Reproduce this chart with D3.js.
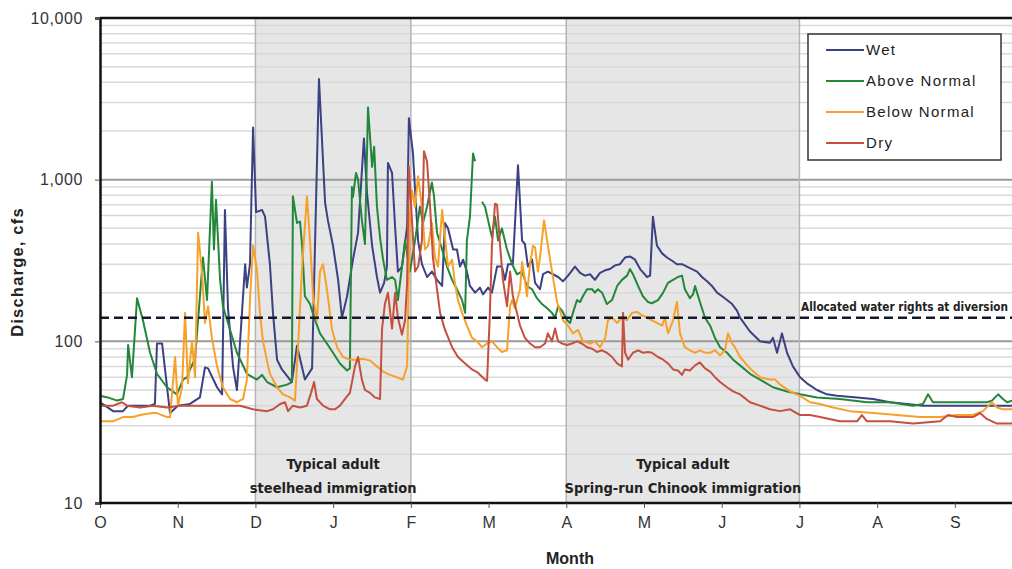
<!DOCTYPE html>
<html>
<head>
<meta charset="utf-8">
<title>Discharge by water year type</title>
<style>
  html, body { margin: 0; padding: 0; background: #fff; }
  svg { display: block; font-family: "Liberation Sans", Arial, sans-serif; }
  .narrow { font-family: "Liberation Sans Narrow", "Arial Narrow", "DejaVu Sans Condensed", sans-serif; font-weight: bold; }
</style>
</head>
<body>
<script src="https://cdn.jsdelivr.net/npm/d3@7"></script>
<script>
// water year months, Oct -> Sep
var monthLabels = ["O", "N", "D", "J", "F", "M", "A", "M", "J", "J", "A", "S"];
var yTicks = [10, 100, 1000, 10000];
var seriesNames = ["Wet", "Above Normal", "Below Normal", "Dry"];
var seriesColors = ["#3b4182", "#23873a", "#f7a12a", "#c4503f"];

// [day of water year, discharge cfs]
var wet = [[0,42],[2,40],[5.1,37],[9,37],[11,40],[19.6,40],[21.5,41],[22.3,97],[24.3,97],[27.4,36],[30.5,40],[35.2,41],[39.1,45],[41.1,69],[42.3,68],[45.8,52],[47.8,47],[48.9,650],[50.1,160],[52.1,69],[53.6,50],[56.8,300],[57.5,215],[58.7,300],[59.9,2100],[61.1,630],[63.4,650],[64.6,590],[66.5,300],[67.7,150],[69.3,77],[71.2,67],[75.1,56],[77.1,94],[80.2,58],[83,68],[85.7,4200],[88.1,720],[89.2,560],[91.2,390],[93.2,240],[94.7,140],[96.7,190],[99,320],[101,470],[103.3,1800],[104.5,830],[106.5,390],[108.4,250],[109.6,200],[111.2,230],[112.3,290],[112.7,1270],[114.3,1100],[115.5,510],[116.6,270],[118.2,290],[120.2,510],[120.9,2400],[122.5,1450],[123.3,870],[124.5,420],[126,300],[128,250],[129.9,270],[131.9,240],[133.9,220],[135,540],[136.2,500],[138.2,370],[139.7,370],[140.9,290],[142.1,320],[143.6,270],[144.8,220],[146.8,200],[148.7,215],[149.9,195],[151.9,215],[153.4,200],[155.4,290],[157.3,290],[158.5,240],[159.7,300],[161.6,300],[163.6,1230],[165.2,420],[166.3,400],[167.5,290],[169.1,320],[170.3,230],[172.2,210],[173.4,260],[175.3,270],[177.3,260],[179.3,250],[181.2,235],[183.2,255],[185.9,290],[187.9,265],[189.8,255],[191.8,260],[193.7,240],[195.7,265],[197.7,275],[199.6,280],[201.6,295],[203.5,300],[205.5,330],[207.4,335],[209.4,320],[211.4,280],[214.1,250],[215.3,255],[216.4,590],[218,390],[220,350],[221.9,330],[223.9,315],[225.8,300],[227.8,300],[229.7,290],[231.7,280],[233.7,270],[235.6,250],[237.6,235],[239.5,220],[241.5,200],[243.5,190],[245.4,180],[247.4,170],[249.3,155],[250.5,140],[254.4,115],[258.3,100],[262.2,98],[263.4,105],[265,85],[266.9,112],[268.9,85],[271.2,70],[274,60],[276.7,55],[280.6,50],[284.5,47],[288.5,46],[296.3,45],[302.6,44],[309.2,42],[315.9,41],[322.1,40],[335.4,40],[348.3,40],[365,40]];

var aboveNormal = [[0,46],[3,45],[6.7,43],[9,44],[10.6,62],[11,95],[12.5,60],[14.5,185],[16.8,135],[19.6,85],[22.3,63],[26.2,52],[30.1,47],[32.5,58],[34.1,60],[35.2,67],[37.2,78],[40.3,330],[41.9,180],[43.8,970],[44.6,370],[45.4,750],[47,240],[48.1,165],[50.9,118],[53.6,85],[57.5,63],[61.4,58],[63.4,62],[65.4,56],[69.3,52],[73.2,54],[75.1,56],[75.5,790],[77.1,540],[78.3,550],[79.1,390],[80.2,190],[82.2,170],[84.2,135],[86.1,112],[88.8,97],[91.2,85],[93.9,73],[96.7,66],[97.8,68],[98.6,900],[99,780],[100.2,1100],[101,1000],[102.5,560],[103.7,400],[104.9,2800],[106.5,1200],[107.3,1600],[108.4,680],[109.6,440],[110.8,320],[112.3,240],[114.3,250],[115.5,240],[116.6,180],[118.2,290],[119.4,420],[121.3,270],[123.3,420],[125.2,680],[126.4,540],[128,680],[129.9,960],[130.7,800],[131.9,470],[133.9,370],[135.8,290],[137.8,240],[139.7,210],[141.7,180],[142.9,150],[143.6,420],[144.8,590],[146,1450],[146.8,1300],[148,null],[149.5,730],[150.7,680],[151.9,560],[153.4,440],[154.6,590],[155.8,420],[157.3,500],[159.3,370],[161.3,300],[163.2,260],[165.2,270],[167.1,220],[169.1,210],[171,185],[173,170],[175,160],[176.9,150],[178.1,140],[179.3,165],[180.8,155],[182.8,135],[184,130],[185.1,150],[186.7,180],[187.9,175],[189,190],[190.6,210],[192.6,210],[193.7,200],[194.9,210],[196.5,200],[198.4,170],[200.4,180],[202.4,220],[204.3,240],[206.3,255],[207.4,280],[208.6,260],[210.6,220],[212.5,190],[214.5,175],[216,172],[218.4,180],[220.4,200],[222.3,230],[224.3,240],[226.2,250],[227.8,255],[228.9,210],[230.9,185],[232.1,195],[232.9,220],[234.8,175],[236.8,140],[238.8,125],[240.7,105],[242.7,92],[245.4,85],[247.8,77],[250.5,71],[254.4,63],[258.3,58],[263.4,52],[268.9,49],[274,47],[280.6,45],[289.6,44],[300.2,42],[309.2,42],[318.2,40],[322.1,41],[324.1,47],[326,42],[331.5,42],[339.3,42],[347.2,42],[349.1,43],[351.5,47],[353.4,44],[355,42],[357,43],[365,42]];

var belowNormal = [[0,32],[5.1,32],[9,34],[12.9,34],[15.7,35],[20.4,36],[22.3,36],[26.2,34],[27.4,34],[29.4,80],[30.5,40],[32.1,52],[33.3,150],[34.4,55],[36,100],[37.2,60],[38.4,470],[39.9,270],[41.1,130],[42.3,165],[43.8,105],[45.8,70],[48.1,52],[50.9,44],[53.6,42],[56,44],[57.5,58],[58.7,180],[59.9,390],[61.4,280],[62.6,150],[63.8,100],[65.8,70],[66.5,63],[69.3,52],[71.6,47],[74.4,45],[76.3,43],[77.5,92],[79.1,290],[81,790],[82.2,420],[83.4,190],[84.9,135],[86.1,270],[87.3,300],[88.8,210],[90.8,118],[92.8,92],[95.1,80],[97.8,77],[100.6,77],[102.9,78],[105.7,76],[108.4,70],[110.8,65],[113.5,62],[116.2,60],[118.6,58],[120.2,70],[121.3,600],[122.1,860],[123.3,680],[124.5,1050],[126,680],[127.2,370],[128.4,390],[129.9,540],[131.1,330],[132.3,290],[133.9,650],[135,440],[136.2,290],[137.8,320],[138.9,230],[140.1,180],[141.7,150],[143.6,125],[145.6,105],[147.6,100],[149.5,92],[151.5,97],[153.4,100],[155.4,92],[157.3,86],[159.3,88],[160.5,165],[161.3,180],[162.4,160],[164.4,210],[165.2,310],[166.3,240],[167.1,190],[168.3,300],[169.5,390],[170.3,380],[171.4,270],[172.2,330],[173.8,560],[175,420],[176.9,270],[178.9,175],[181.2,135],[183.2,125],[185.1,112],[187.1,118],[189,100],[191.8,97],[193.7,100],[195.7,92],[197.7,105],[198.8,135],[200.4,140],[202.4,130],[204.3,140],[206.3,135],[208.2,150],[210.2,152],[212.1,145],[214.1,140],[216,135],[218,130],[220,125],[221.1,140],[222.3,112],[224.3,135],[225.8,175],[227,112],[228.9,92],[230.9,88],[232.9,85],[234.8,88],[236.8,85],[238.8,85],[240.7,88],[242.7,82],[244.6,88],[245.8,112],[247.4,97],[248.5,92],[250.5,80],[254.4,68],[258.3,60],[262.2,58],[264.2,58],[266.2,54],[270.1,49],[274,46],[277.9,42],[281.8,41],[286.9,39],[293.6,37],[302.6,36],[311.9,35],[320.9,34],[328.8,34],[335.4,35],[341.7,35],[345.6,37],[349.1,42],[351.1,39],[353.4,38],[357,38],[365,38]];

var dry = [[0,40],[5.1,40],[8.6,42],[10.6,40],[15.7,39],[20.7,40],[26.2,39],[31.3,40],[39.1,40],[47,40],[54.8,40],[59.9,38],[65.4,37],[67.7,38],[70.5,41],[72.4,42],[73.6,37],[75.5,40],[78.3,39],[81,40],[82.6,48],[83.8,56],[84.9,44],[87.3,40],[90,38],[92,38],[93.9,40],[95.9,44],[97.8,48],[99.8,70],[101,80],[102.5,58],[103.7,50],[105.7,48],[107.6,45],[109.6,44],[110.4,120],[111.5,170],[112.7,200],[114.3,120],[115.5,200],[116.6,140],[118.2,110],[119.4,135],[120.2,230],[120.9,1200],[122.1,560],[123.3,270],[124.5,290],[126,420],[126.8,1500],[128,1300],[129.2,680],[130.3,330],[131.9,210],[133.1,150],[135,118],[137.8,92],[140.1,80],[142.9,73],[145.6,67],[147.9,64],[150.7,58],[151.5,57],[152.6,150],[153.4,390],[154.6,710],[155.4,700],[156.6,390],[157.7,240],[159.3,165],[160.5,270],[161.6,190],[163.2,150],[164.4,125],[166.3,105],[168.3,97],[170.3,92],[172.2,92],[174.2,97],[175.3,112],[176.9,100],[178.1,120],[179.3,100],[180.8,97],[182.8,95],[184.7,97],[186.7,100],[188.6,97],[190.6,92],[192.6,90],[194.5,86],[196.5,88],[198.4,85],[200.4,80],[202.4,73],[204.3,70],[204.7,150],[205.5,85],[206.7,77],[208.6,85],[210.6,88],[212.5,85],[214.5,86],[216,85],[218.4,80],[220.4,77],[222.3,73],[224.3,67],[226.2,66],[227.8,62],[228.9,67],[230.9,66],[232.9,71],[234.8,74],[236.8,68],[238.8,65],[240.7,60],[242.7,56],[245.4,52],[247.8,49],[250.5,47],[254.4,42],[258.3,40],[262.2,38],[266.2,37],[270.1,38],[274,35],[277.9,35],[281.8,34],[289.6,32],[296.3,32],[298.2,35],[300.2,32],[309.2,32],[318.2,31],[328.8,32],[331.9,35],[335.4,34],[341.7,34],[344.4,36],[347.2,33],[351.1,31],[357,31],[365,31]];

var waterRight = 140;
var waterRightLabel = "Allocated water rights at diversion";
// migration windows, given as month index (start, end)
var windowMonths = [[2, 4], [6, 9]];
var windowLabels = [["Typical adult", "steelhead immigration"], ["Typical adult", "Spring-run Chinook immigration"]];

var width = 1012, height = 569;
var plotLeft = 100, plotTop = 18, plotBottom = 503;
var dayWidth = 2.555;
var monthDays = 365 / 12;

var svg = d3.select("body").append("svg")
    .attr("width", width)
    .attr("height", height);

var x = d3.scaleLinear().domain([0, 365]).range([plotLeft, plotLeft + 365 * dayWidth]);
var y = d3.scaleLog().domain([10, 10000]).range([plotBottom, plotTop]);

svg.append("defs").append("clipPath").attr("id", "plot")
    .append("rect").attr("x", plotLeft).attr("y", plotTop)
    .attr("width", width - plotLeft).attr("height", plotBottom - plotTop);

// shaded migration windows
svg.append("g").selectAll("rect").data(windowMonths).enter().append("rect")
    .attr("x", function(d) { return x(d[0] * monthDays); })
    .attr("y", plotTop)
    .attr("width", function(d) { return x(d[1] * monthDays) - x(d[0] * monthDays); })
    .attr("height", plotBottom - plotTop)
    .attr("fill", "#e6e6e6");

// grid
var minor = [];
[10, 100, 1000].forEach(function(d) {
    for (var k = 2; k <= 9; k++) minor.push(d * k);
});
svg.append("g").selectAll("line").data(minor).enter().append("line")
    .attr("x1", plotLeft).attr("x2", width)
    .attr("y1", function(d) { return y(d); }).attr("y2", function(d) { return y(d); })
    .attr("stroke", "#d9d9d9").attr("stroke-width", 1.5);
svg.append("g").selectAll("line").data([100, 1000]).enter().append("line")
    .attr("x1", plotLeft).attr("x2", width)
    .attr("y1", function(d) { return y(d); }).attr("y2", function(d) { return y(d); })
    .attr("stroke", "#9a9a9a").attr("stroke-width", 2);
var edges = [];
windowMonths.forEach(function(w) { edges.push(w[0], w[1]); });
svg.append("g").selectAll("line").data(edges).enter().append("line")
    .attr("x1", function(d) { return x(d * monthDays); }).attr("x2", function(d) { return x(d * monthDays); })
    .attr("y1", plotTop).attr("y2", plotBottom)
    .attr("stroke", "#b4b4b4").attr("stroke-width", 1.5);

// series
var line = d3.line()
    .defined(function(d) { return d[1] != null; })
    .x(function(d) { return x(d[0]); })
    .y(function(d) { return y(d[1]); });

var allSeries = [wet, aboveNormal, belowNormal, dry];
svg.append("g").attr("clip-path", "url(#plot)")
    .selectAll("path").data(allSeries).enter().append("path")
    .attr("d", line)
    .attr("fill", "none")
    .attr("stroke", function(d, i) { return seriesColors[i]; })
    .attr("stroke-width", 2)
    .attr("stroke-linejoin", "round");

// water right
svg.append("line")
    .attr("x1", plotLeft).attr("x2", width)
    .attr("y1", y(waterRight)).attr("y2", y(waterRight))
    .attr("stroke", "#15172a").attr("stroke-width", 2.5)
    .attr("stroke-dasharray", "9,5");
svg.append("text").attr("class", "narrow")
    .attr("x", 801).attr("y", y(waterRight) - 7)
    .attr("font-size", 11.8).attr("fill", "#222")
    .attr("textLength", 207).attr("lengthAdjust", "spacingAndGlyphs")
    .text(waterRightLabel);

// window labels
windowMonths.forEach(function(w, i) {
    var cx = x((w[0] + w[1]) / 2 * monthDays);
    var t = svg.append("text").attr("class", "narrow")
        .attr("text-anchor", "middle").attr("font-size", 14.5).attr("fill", "#222");
    windowLabels[i].forEach(function(s, j) {
        t.append("tspan").attr("x", cx).attr("y", 469 + j * 24).text(s);
    });
});

// axes
var xAxis = d3.axisBottom(x)
    .tickValues(monthLabels.map(function(m, i) { return i * monthDays; }))
    .tickFormat(function(d, i) { return monthLabels[i]; })
    .tickSize(5);
var gx = svg.append("g").attr("transform", "translate(0," + plotBottom + ")").call(xAxis);
gx.select(".domain").attr("d", "M" + plotLeft + ",0H" + width).attr("stroke", "#111").attr("stroke-width", 2.5);
gx.selectAll(".tick line").attr("stroke", "#555");
gx.selectAll(".tick text").attr("font-size", 16).attr("fill", "#333").attr("dy", "1.05em")
    .attr("font-family", "Liberation Sans, Arial, sans-serif");

var yAxis = d3.axisLeft(y).tickValues(yTicks).tickFormat(d3.format(",")).tickSize(5);
var gy = svg.append("g").attr("transform", "translate(" + plotLeft + ",0)").call(yAxis);
gy.select(".domain").attr("stroke", "#111").attr("stroke-width", 2.5);
gy.selectAll(".tick line").attr("stroke", "#555");
gy.selectAll(".tick text").attr("font-size", 16).attr("fill", "#333").attr("x", -17)
    .attr("letter-spacing", 0.6)
    .attr("font-family", "Liberation Sans, Arial, sans-serif");

// top frame
svg.append("line").attr("x1", plotLeft).attr("x2", width).attr("y1", plotTop).attr("y2", plotTop)
    .attr("stroke", "#111").attr("stroke-width", 2.5);

svg.append("text").attr("x", 570).attr("y", 564).attr("text-anchor", "middle")
    .attr("font-size", 16).attr("font-weight", "bold").attr("fill", "#222").text("Month");
svg.append("text").attr("transform", "translate(23,272) rotate(-90)").attr("text-anchor", "middle")
    .attr("font-size", 16.5).attr("font-weight", "bold").attr("letter-spacing", 1.2)
    .attr("fill", "#222").text("Discharge, cfs");

// legend
var legend = svg.append("g").attr("transform", "translate(808,34)");
legend.append("rect").attr("width", 193).attr("height", 126)
    .attr("fill", "#fff").attr("stroke", "#333").attr("stroke-width", 1.5);
var items = legend.selectAll("g").data(seriesNames).enter().append("g")
    .attr("transform", function(d, i) { return "translate(0," + (16 + i * 31) + ")"; });
items.append("line").attr("x1", 18).attr("x2", 56)
    .attr("stroke", function(d, i) { return seriesColors[i]; }).attr("stroke-width", 2);
items.append("text").attr("x", 58).attr("dy", "0.36em")
    .attr("font-size", 15).attr("letter-spacing", 1.3).attr("fill", "#222")
    .text(function(d) { return d; });
</script>
</body>
</html>
